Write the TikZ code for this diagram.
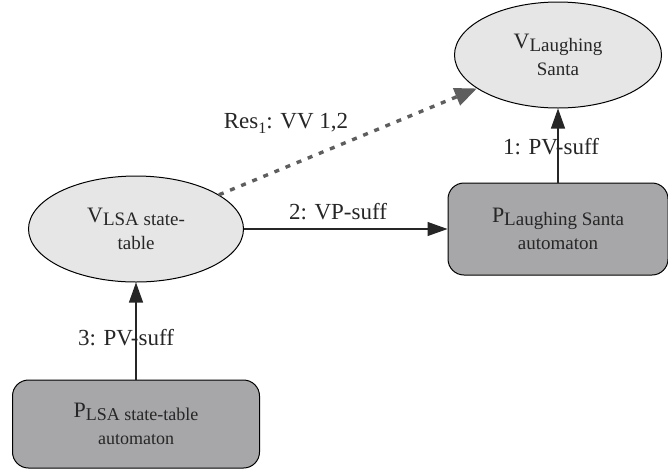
\documentclass[tikz,border=0pt]{standalone}
\usepackage{fontspec}
\setmainfont{Liberation Serif}
\usetikzlibrary{shapes.geometric,arrows.meta}
\definecolor{vfill}{HTML}{E6E6E6}
\definecolor{pfill}{HTML}{A7A7A9}
\definecolor{ink}{HTML}{262626}
\definecolor{dotc}{HTML}{5E5E5E}
\newcommand{\mainL}[1]{{\fontsize{22}{27}\selectfont #1}}
\newcommand{\subL}[2]{\raisebox{-#1}{\fontsize{19}{27}\selectfont #2}}
\tikzset{
  vnode/.style={ellipse, draw=black, line width=1pt, fill=vfill, inner sep=0pt, align=center, text=ink,
    font=\fontsize{19}{27}\selectfont},
  pnode/.style={rectangle, rounded corners=16pt, draw=black, line width=1pt, fill=pfill, inner sep=0pt, align=center, text=ink,
    font=\fontsize{19}{27}\selectfont},
  lbl/.style={text=ink, font=\fontsize{23}{27}\selectfont, inner sep=0pt, anchor=base},
  solidarrow/.style={draw=black!85, line width=1.1pt, -{Triangle[length=20pt,width=14pt]}},
  dotarrow/.style={draw=dotc, line width=3.4pt, dash pattern=on 5pt off 7pt, -{Triangle[length=22pt,width=18pt,fill=dotc]}}
}
\begin{document}
\begin{tikzpicture}[x=1pt,y=-1pt]
\useasboundingbox (0,0) rectangle (668,472);
\node[vnode, minimum width=207pt, minimum height=106pt] (tv) at (558,55)
  {\mainL{V}\subL{3pt}{Laughing}\\Santa};
\node[vnode, minimum width=215pt, minimum height=106pt] (lv) at (136,229)
  {\mainL{V}\subL{3pt}{LSA state-}\\table};
\node[pnode, minimum width=220pt, minimum height=92pt] (rb) at (558,229)
  {\mainL{P}\subL{3pt}{Laughing Santa}\\automaton};
\node[pnode, minimum width=247pt, minimum height=88pt, font=\fontsize{18}{27}\selectfont] (bb) at (136,424)
  {\mainL{P}\raisebox{-3pt}{\fontsize{18}{27}\selectfont LSA state-table}\\automaton};
\draw[solidarrow] (bb) -- (lv);
\draw[solidarrow] (rb) -- (tv);
\draw[solidarrow] (lv) -- (rb);
\draw[dotarrow] (lv) -- (tv);
\node[lbl] (l3) at (126,345) {3: PV-suff};
\node[lbl] (l1) at (551,154) {1: PV-suff};
\node[lbl] (l2) at (338,219) {2: VP-suff};
\node[lbl] (lr) at (286,128) {Res\raisebox{-5pt}{\fontsize{16}{16}\selectfont 1}: VV 1,2};
\end{tikzpicture}
\end{document}
